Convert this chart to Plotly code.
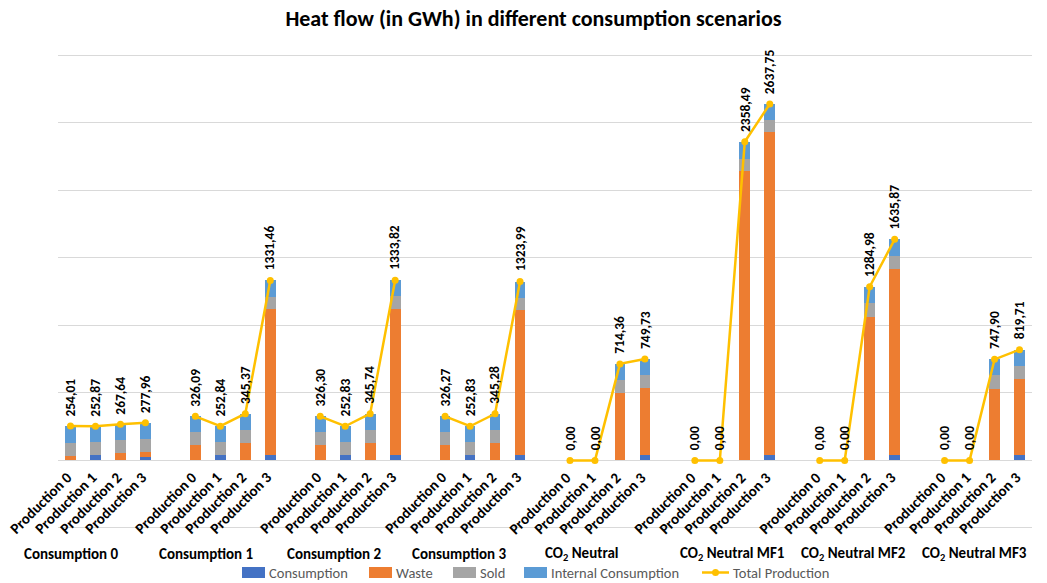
import plotly.graph_objects as go

# Scenario groups and production variants
groups = ["Consumption 0", "Consumption 1", "Consumption 2", "Consumption 3",
          "CO<sub>2</sub> Neutral", "CO<sub>2</sub> Neutral MF1",
          "CO<sub>2</sub> Neutral MF2", "CO<sub>2</sub> Neutral MF3"]
productions = ["Production 0", "Production 1", "Production 2", "Production 3"]

# Heat flow components in GWh (one value per group x production, group-major order)
consumption = [0, 37, 0, 25,
               0, 37, 0, 37,
               0, 37, 0, 37,
               0, 37, 0, 37,
               0, 0, 0, 37,
               0, 0, 0, 37,
               0, 0, 0, 37,
               0, 0, 0, 37]
waste = [35, 0, 54, 37,
         111, 0, 129, 1081,
         111, 0, 129, 1084,
         111, 0, 129, 1074,
         0, 0, 499, 499,
         0, 0, 2139, 2392,
         0, 0, 1063, 1378,
         0, 0, 532, 569]
sold = [95, 99, 94, 94,
        99, 99, 94, 94,
        99, 99, 94, 94,
        99, 99, 94, 94,
        0, 0, 94, 94,
        0, 0, 94, 92,
        0, 0, 99, 99,
        0, 0, 99, 94]
internal = [124.01, 116.87, 119.64, 121.96,
            116.09, 116.84, 122.37, 119.46,
            116.30, 116.83, 122.74, 118.82,
            116.27, 116.83, 122.28, 118.99,
            0, 0, 121.36, 119.73,
            0, 0, 125.49, 116.75,
            0, 0, 122.98, 121.87,
            0, 0, 116.90, 119.71]
total_production = [254.01, 252.87, 267.64, 277.96,
                    326.09, 252.84, 345.37, 1331.46,
                    326.30, 252.83, 345.74, 1333.82,
                    326.27, 252.83, 345.28, 1323.99,
                    0.00, 0.00, 714.36, 749.73,
                    0.00, 0.00, 2358.49, 2637.75,
                    0.00, 0.00, 1284.98, 1635.87,
                    0.00, 0.00, 747.90, 819.71]

series = [("Consumption", consumption, "#4472C4"),
          ("Waste", waste, "#ED7D31"),
          ("Sold", sold, "#A5A5A5"),
          ("Internal Consumption", internal, "#5B9BD5")]
LINE_NAME, LINE_COLOR = "Total Production", "#FFC000"

# Category slots: 4 bars per group plus one empty slot between groups
n_prod = len(productions)
slot = n_prod + 1
xs = [g * slot + p for g in range(len(groups)) for p in range(n_prod)]

# Line x/y with breaks in the empty slots
line_x, line_y = [], []
for g in range(len(groups)):
    for p in range(n_prod):
        line_x.append(g * slot + p)
        line_y.append(total_production[g * n_prod + p])
    if g < len(groups) - 1:
        line_x.append(g * slot + n_prod)
        line_y.append(None)

FONT = "Carlito, Lato, sans-serif"
BAR_W = 0.43

fig = go.Figure()
for name, vals, color in series:
    fig.add_trace(go.Bar(x=xs, y=vals, name=name, width=BAR_W,
                         marker=dict(color=color, line=dict(width=0)),
                         hoverinfo="skip"))

fig.add_trace(go.Scatter(x=line_x, y=line_y, name=LINE_NAME,
                         mode="lines+markers", connectgaps=False,
                         line=dict(color=LINE_COLOR, width=2.5),
                         marker=dict(color=LINE_COLOR, size=7)))

annotations = []
# Value labels above the total production points
for x, v in zip(xs, total_production):
    annotations.append(dict(x=x, y=v, xref="x", yref="y", showarrow=False,
                            text="<b>" + f"{v:.2f}".replace(".", ",") + "</b>",
                            textangle=-90, xanchor="center", yanchor="bottom",
                            yshift=8,
                            font=dict(family=FONT, size=13.5, color="#000000")))

# Production labels under each bar
for g in range(len(groups)):
    for p in range(n_prod):
        annotations.append(dict(x=g * slot + p, y=0, xref="x", yref="y",
                                showarrow=False, text=f"<b>{productions[p]}</b>",
                                textangle=-45, xanchor="right", yanchor="top",
                                xshift=8, yshift=-5,
                                font=dict(family=FONT, size=15, color="#000000")))

# Plot area in pixels
PLOT_L, PLOT_W = 58, 974
PLOT_T, PLOT_H = 53, 477
PLOT_B = PLOT_T + PLOT_H

def px(xpix):
    return (xpix - PLOT_L) / PLOT_W

def py(ypix):
    return (PLOT_B - ypix) / PLOT_H

# Group labels
group_shift = [-36, -26.5, -23.5, -23.5, -25.5, 0.5, -4, -7.5]
for g, name in enumerate(groups):
    annotations.append(dict(x=g * slot + (n_prod - 1) / 2, y=py(554),
                            xref="x", yref="paper", showarrow=False,
                            text=f"<b>{name}</b>", xshift=group_shift[g],
                            xanchor="center", yanchor="middle",
                            font=dict(family=FONT, size=15, color="#000000")))

# Legend row along the bottom edge
legend_y = py(572.5)
half_h = 5.5 / PLOT_H
shapes = []
legend_starts = [242, 369, 453, 524]
for (name, _, color), x0 in zip(series, legend_starts):
    shapes.append(dict(type="rect", xref="paper", yref="paper",
                       x0=px(x0), x1=px(x0 + 23), y0=legend_y - half_h,
                       y1=legend_y + half_h, fillcolor=color,
                       line=dict(width=0)))
    annotations.append(dict(x=px(x0 + 25), y=legend_y, xref="paper",
                            yref="paper", showarrow=False, text=name,
                            xanchor="left", yanchor="middle",
                            font=dict(family=FONT, size=14.5, color="#595959")))
line_x0 = 702
shapes.append(dict(type="line", xref="paper", yref="paper",
                   x0=px(line_x0), x1=px(line_x0 + 27), y0=legend_y,
                   y1=legend_y, line=dict(color=LINE_COLOR, width=2.5)))
shapes.append(dict(type="circle", xref="paper", yref="paper",
                   x0=px(line_x0 + 10), x1=px(line_x0 + 17),
                   y0=legend_y - 3.5 / PLOT_H, y1=legend_y + 3.5 / PLOT_H,
                   fillcolor=LINE_COLOR, line=dict(width=0)))
annotations.append(dict(x=px(line_x0 + 29), y=legend_y, xref="paper",
                        yref="paper", showarrow=False, text=LINE_NAME,
                        xanchor="left", yanchor="middle",
                        font=dict(family=FONT, size=14.5, color="#595959")))

fig.update_layout(
    width=1047, height=583,
    margin=dict(l=PLOT_L, r=1047 - PLOT_L - PLOT_W, t=PLOT_T,
                b=583 - PLOT_B, autoexpand=False),
    paper_bgcolor="white", plot_bgcolor="white",
    barmode="stack",
    title=dict(text="<b>Heat flow (in GWh) in different consumption scenarios</b>",
               x=533.5 / 1047, xanchor="center", y=1 - 18 / 583,
               yanchor="middle",
               font=dict(family=FONT, size=22, color="#000000")),
    xaxis=dict(range=[-0.5, len(groups) * slot - 1.5], showticklabels=False,
               showgrid=False, zeroline=False, ticks=""),
    yaxis=dict(range=[-515, 3015], dtick=500, tick0=0, showticklabels=False,
               showgrid=True, gridcolor="#D9D9D9", gridwidth=1, zeroline=False,
               ticks=""),
    showlegend=False,
    annotations=annotations,
    shapes=shapes,
)

fig.write_html("out.html")
